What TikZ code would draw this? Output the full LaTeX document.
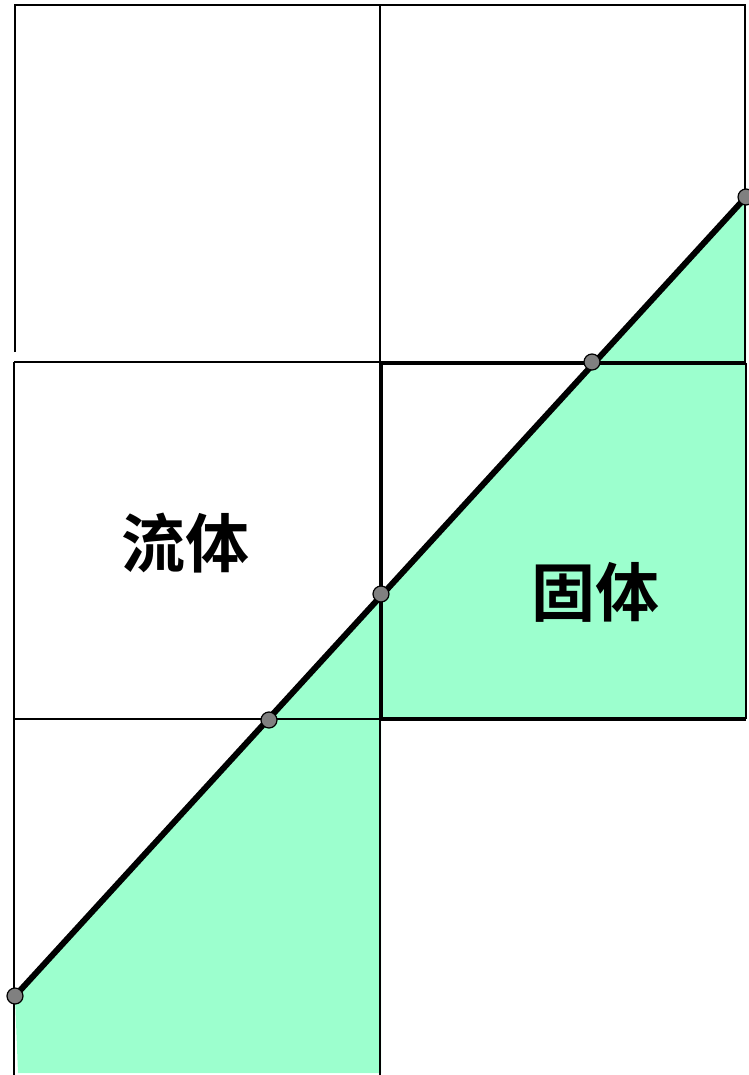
\documentclass[tikz,border=0pt]{standalone}
\usepackage{fontspec}
\newfontfamily\cjk{Noto Sans CJK SC}[BoldFont={Noto Sans CJK SC Bold}]
\definecolor{solidgreen}{RGB}{156,255,206}
\definecolor{dotgray}{RGB}{128,128,128}
\tikzset{
  gridline/.style={black, line width=2.8pt},
  interface/.style={black, line width=6pt},
  ptdot/.style={circle, fill=dotgray, draw=black, line width=1.2pt, minimum size=16pt, inner sep=0pt},
  phase/.style={font=\cjk\bfseries\fontsize{64}{64}\selectfont, inner sep=0pt}
}
\begin{document}
\begin{tikzpicture}[x=1pt,y=-1pt]
\useasboundingbox (0,0) rectangle (748,1075);
% green solid region
\fill[solidgreen] (15,996) -- (746,197) -- (746,719) -- (381,719) -- (381,1073) -- (18,1073) -- cycle;
% grid
\draw[gridline] (15,352) -- (15,5) -- (380,5);
\draw[gridline] (380,5) -- (745,5) -- (745,362);
\draw[gridline] (380,5) -- (380,1075);
\draw[gridline] (14,362) -- (380,362);
\draw[gridline, line width=3.8pt] (380,363) -- (746,363);
\draw[gridline] (14,362) -- (14,1075);
\draw[gridline] (14,719) -- (381,719);
\draw[gridline, line width=3.8pt] (381,719) -- (746,719);
\draw[gridline] (382,363) -- (382,719);
\draw[gridline] (746,363) -- (746,719);
% interface points
\coordinate (p1) at (15,996);
\coordinate (p2) at (269,720);
\coordinate (p3) at (381,594);
\coordinate (p4) at (592,362);
\coordinate (p5) at (746,197);
\draw[interface] (p1) -- (p5);
\foreach \p in {p1,p2,p3,p4,p5} \node[ptdot] at (\p) {};
% labels
\node[phase] (fluid) at (185,543) {流体};
\node[phase] (solid) at (595,592) {固体};
\end{tikzpicture}
\end{document}
